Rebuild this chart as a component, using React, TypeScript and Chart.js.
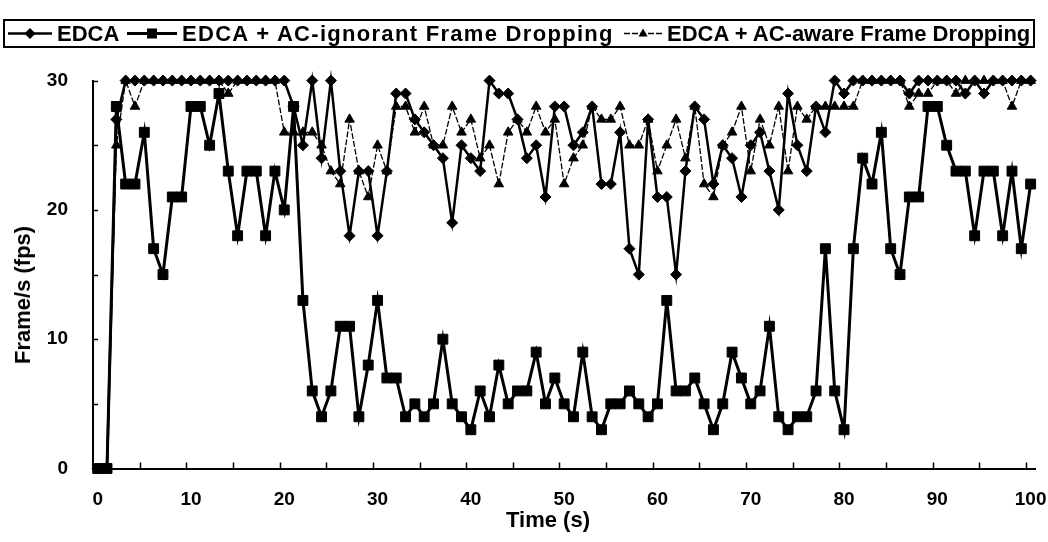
import React, { useEffect, useRef } from 'react';
import { Chart, registerables } from 'chart.js';

Chart.register(...registerables);

// Categories: time in seconds (0..100)
const seconds: string[] = Array.from({ length: 101 }, (_, i) => String(i));

const edca: number[] = [
  0, 0, 27, 30, 30, 30, 30, 30, 30, 30,
  30, 30, 30, 30, 30, 30, 30, 30, 30, 30,
  30, 28, 25, 30, 24, 30, 23, 18, 23, 23,
  18, 23, 29, 29, 27, 26, 25, 24, 19, 25,
  24, 23, 30, 29, 29, 27, 24, 25, 21, 28,
  28, 25, 26, 28, 22, 22, 26, 17, 15, 27,
  21, 21, 15, 23, 28, 27, 22, 25, 24, 21,
  25, 26, 23, 20, 29, 25, 23, 28, 26, 30,
  29, 30, 30, 30, 30, 30, 30, 29, 30, 30,
  30, 30, 30, 29, 30, 29, 30, 30, 30, 30,
  30,
];

const acIgnorant: number[] = [
  0, 0, 28, 22, 22, 26, 17, 15, 21, 21,
  28, 28, 25, 29, 23, 18, 23, 23, 18, 23,
  20, 28, 13, 6, 4, 6, 11, 11, 4, 8,
  13, 7, 7, 4, 5, 4, 5, 10, 5, 4,
  3, 6, 4, 8, 5, 6, 6, 9, 5, 7,
  5, 4, 9, 4, 3, 5, 5, 6, 5, 4,
  5, 13, 6, 6, 7, 5, 3, 5, 9, 7,
  5, 6, 11, 4, 3, 4, 4, 6, 17, 6,
  3, 17, 24, 22, 26, 17, 15, 21, 21, 28,
  28, 25, 23, 23, 18, 23, 23, 18, 23, 17,
  22,
];

const acAware: number[] = [
  0, 0, 25, 30, 28, 30, 30, 30, 30, 30,
  30, 30, 30, 30, 29, 30, 30, 30, 30, 30,
  26, 26, 26, 26, 25, 23, 22, 27, 23, 21,
  25, 23, 28, 28, 26, 28, 25, 25, 28, 26,
  27, 24, 25, 22, 26, 27, 26, 28, 26, 27,
  22, 24, 25, 28, 27, 27, 28, 25, 25, 27,
  23, 25, 27, 24, 28, 22, 21, 25, 26, 28,
  23, 27, 25, 28, 23, 28, 27, 28, 28, 28,
  28, 28, 30, 30, 30, 30, 30, 28, 29, 29,
  30, 30, 29, 30, 30, 30, 30, 30, 28, 30,
  30,
];

const seriesNames = [
  'EDCA',
  'EDCA + AC-ignorant Frame Dropping',
  'EDCA + AC-aware Frame Dropping',
];

const xLabelEvery = 10;
const xTickMarkEvery = 5;
const yTickMarks = [0, 5, 10, 15, 20, 25, 30];

const FONT = '"Liberation Sans", Arial, sans-serif';

const inwardTicks = {
  id: 'inwardTicks',
  afterDatasetsDraw(chart: any) {
    const { ctx, scales, chartArea } = chart;
    const x = scales.x;
    const y = scales.y;
    ctx.save();
    ctx.strokeStyle = '#000';
    ctx.lineWidth = 1.5;
    const half = (x.getPixelForValue(1) - x.getPixelForValue(0)) / 2;
    ctx.beginPath();
    for (let k = xTickMarkEvery; k < seconds.length; k += xTickMarkEvery) {
      const px = Math.round(x.getPixelForValue(k) - half) + 0.5;
      ctx.moveTo(px, chartArea.bottom);
      ctx.lineTo(px, chartArea.bottom - 6);
    }
    for (const v of yTickMarks) {
      const py = Math.round(y.getPixelForValue(v)) + 0.5;
      ctx.moveTo(chartArea.left, py);
      ctx.lineTo(chartArea.left + 5, py);
    }
    ctx.stroke();
    ctx.restore();
  },
};

export default function App() {
  const ref = useRef<HTMLCanvasElement>(null);

  useEffect(() => {
    document.body.style.margin = '0';
    const canvas = ref.current;
    if (!canvas) return;
    const chart = new Chart(canvas, {
      type: 'line',
      data: {
        labels: seconds,
        datasets: [
          {
            label: seriesNames[2],
            data: acAware,
            borderColor: '#000',
            backgroundColor: '#000',
            borderWidth: 1.3,
            borderDash: [6, 2],
            pointStyle: 'triangle',
            pointRadius: 5.5,
            pointBorderWidth: 1,
            pointBorderColor: '#000',
            pointBackgroundColor: '#000',
            tension: 0,
            clip: false,
          },
          {
            label: seriesNames[0],
            data: edca,
            borderColor: '#000',
            backgroundColor: '#000',
            borderWidth: 2.5,
            pointStyle: 'rectRot',
            pointRadius: 5.5,
            pointBorderWidth: 1,
            pointBorderColor: '#000',
            pointBackgroundColor: '#000',
            tension: 0,
            clip: false,
          },
          {
            label: seriesNames[1],
            data: acIgnorant,
            borderColor: '#000',
            backgroundColor: '#000',
            borderWidth: 3,
            pointStyle: 'rect',
            pointRadius: 7,
            pointBorderWidth: 1,
            pointBorderColor: '#000',
            pointBackgroundColor: '#000',
            tension: 0,
            clip: false,
          },
        ],
      },
      options: {
        animation: false,
        responsive: false,
        devicePixelRatio: 1,
        layout: { padding: { top: 80.6, right: 12.7, left: 0, bottom: 0 } },
        plugins: {
          legend: { display: false },
          tooltip: { enabled: false },
          title: { display: false },
        },
        scales: {
          x: {
            type: 'category',
            offset: true,
            grid: { display: false, drawTicks: true, tickLength: 20 },
            border: { display: true, color: '#000', width: 2 },
            ticks: {
              autoSkip: false,
              maxRotation: 0,
              minRotation: 0,
              padding: 0,
              color: '#000',
              font: { family: FONT, size: 19, weight: 'bold' },
            },
            afterBuildTicks: (s: any) => {
              s.ticks = s.ticks.filter((t: any) => Number(t.value) % xLabelEvery === 0);
            },
            afterFit: (s: any) => {
              s.height = 73.5;
              s.paddingLeft = 0;
              s.paddingRight = 0;
            },
          },
          y: {
            min: 0,
            max: 30,
            grid: { display: false, drawTicks: false },
            border: { display: true, color: '#000', width: 2 },
            ticks: {
              stepSize: 10,
              padding: 25,
              color: '#000',
              font: { family: FONT, size: 19, weight: 'bold' },
            },
            afterFit: (s: any) => {
              s.width = 93;
              s.paddingTop = 0;
              s.paddingBottom = 0;
            },
          },
        },
      },
      plugins: [inwardTicks],
    });
    return () => chart.destroy();
  }, []);

  const textStyle: React.CSSProperties = {
    position: 'absolute',
    fontFamily: FONT,
    fontWeight: 'bold',
    fontSize: 22,
    lineHeight: '22px',
    whiteSpace: 'nowrap',
    color: '#000',
  };

  return (
    <div style={{ position: 'relative', width: 1048, height: 542, background: '#fff', overflow: 'hidden' }}>
      <canvas ref={ref} width={1048} height={542} style={{ display: 'block', width: 1048, height: 542 }} />
      <div
        style={{
          position: 'absolute',
          left: 3,
          top: 19,
          width: 1032,
          height: 29,
          border: '2px solid #000',
          boxSizing: 'border-box',
        }}
      />
      <svg style={{ position: 'absolute', left: 0, top: 0 }} width={1048} height={60}>
        <line x1={8} y1={33.5} x2={52} y2={33.5} stroke="#000" strokeWidth={2.5} />
        <polygon points="30,28 35.5,33.5 30,39 24.5,33.5" fill="#000" />
        <line x1={127} y1={33.5} x2={177} y2={33.5} stroke="#000" strokeWidth={3} />
        <rect x={147} y={28.5} width={10} height={10} fill="#000" />
        <line x1={624} y1={33.5} x2={662} y2={33.5} stroke="#000" strokeWidth={1.3} strokeDasharray="6 2" />
        <polygon points="643,28.5 647.5,36.5 638.5,36.5" fill="#000" />
      </svg>
      <span style={{ ...textStyle, left: 57, top: 23 }}>{seriesNames[0]}</span>
      <span style={{ ...textStyle, left: 182, top: 23, letterSpacing: '1.3px' }}>{seriesNames[1]}</span>
      <span style={{ ...textStyle, left: 667, top: 23 }}>{seriesNames[2]}</span>
      <div
        style={{
          ...textStyle,
          left: 548,
          top: 509,
          transform: 'translateX(-50%)',
        }}
      >
        Time (s)
      </div>
      <div
        style={{
          ...textStyle,
          left: 23,
          top: 295,
          transform: 'translate(-50%, -50%) rotate(-90deg)',
        }}
      >
        Frame/s (fps)
      </div>
    </div>
  );
}
